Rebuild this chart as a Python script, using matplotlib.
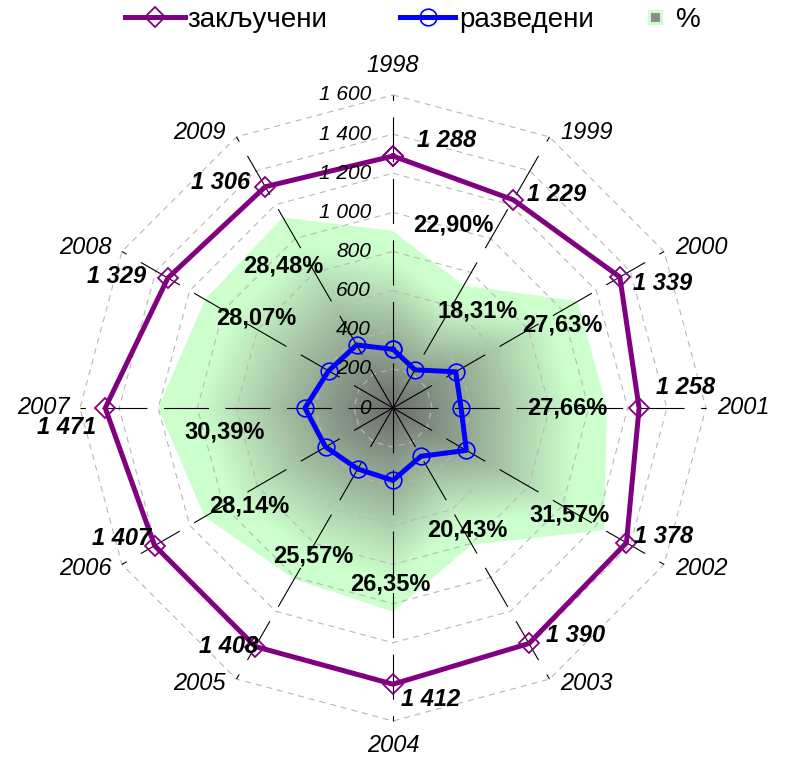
import numpy as np
import matplotlib
matplotlib.use('Agg')
import matplotlib.pyplot as plt
from matplotlib.lines import Line2D
from matplotlib.patches import Polygon

plt.rcParams['font.family'] = ['Liberation Sans', 'DejaVu Sans']
plt.rcParams['lines.scale_dashes'] = False

# подаци
godine = ['1998', '1999', '2000', '2001', '2002', '2003',
          '2004', '2005', '2006', '2007', '2008', '2009']
zakljuceni = [1288, 1229, 1339, 1258, 1378, 1390, 1412, 1408, 1407, 1471, 1329, 1306]
razvedeni = [300, 225, 370, 348, 433, 285, 370, 360, 398, 450, 380, 372]
procenat = [22.90, 18.31, 27.63, 27.66, 31.57, 20.43, 26.35, 25.57, 28.14, 30.39, 28.07, 28.48]
radijalni_podeoci = [0, 200, 400, 600, 800, 1000, 1200, 1400, 1600]

R_MAX = 1600
PCT_MAX = 40.5  # sekundarna osa za %

# pomeraji natpisa u pikselima (dx, dy nagore)
pomeraj_pct = [(60, 6), (14, -26), (-16, -24), (-40, 0), (-35, 15), (-5, 15),
               (-3, 28), (19, 23), (45, 11), (66, -24), (51, -18), (0, -49)]
pomeraj_vr = [(54, 16), (43, 5), (43, -6), (46, 20), (37, 6), (47, 8),
              (38, -15), (-27, 0), (-33, 7), (-39, -20), (-51, 2), (-45, 4)]

W, H = 787, 758
cx, cy = 393, 408
s = 313 / R_MAX  # px po jedinici

fig = plt.figure(figsize=(W / 100, H / 100), dpi=100)
ax = fig.add_axes([0, 0, 1, 1])
ax.axis('off')

n = len(godine)
ugao = np.arange(n) * 2 * np.pi / n
sn, cs = np.sin(ugao), np.cos(ugao)
sn[np.abs(sn) < 1e-9] = 0
cs[np.abs(cs) < 1e-9] = 0

def zatvori(a):
    return np.append(a, a[0])

# povrsina za % sa gradijentom
rp = np.array(procenat) / PCT_MAX * R_MAX
px, py = rp * sn, rp * cs
xmin, xmax, ymin, ymax = px.min(), px.max(), py.min(), py.max()
gx, gy = np.meshgrid(np.linspace(xmin, xmax, 700), np.linspace(ymin, ymax, 700))
th = np.mod(np.arctan2(gx, gy), 2 * np.pi)
k = np.floor(th / (2 * np.pi / n)).astype(int) % n
k1 = (k + 1) % n
det = px[k] * py[k1] - px[k1] * py[k]
a = (gx * py[k1] - px[k1] * gy) / det
b = (px[k] * gy - gx * py[k]) / det
t = np.clip((a + b) / 0.85, 0, 1)
c0 = np.array([0.42, 0.42, 0.42])
c1 = np.array([0.80, 1.0, 0.80])
img = c0 + (c1 - c0) * t[..., None]
im = ax.imshow(img, extent=(xmin, xmax, ymin, ymax), origin='lower',
               interpolation='bilinear', zorder=1)
poly = Polygon(np.column_stack([px, py]), closed=True, fc='none', ec='none',
               transform=ax.transData)
ax.add_patch(poly)
im.set_clip_path(poly)

# mreza
for r in radijalni_podeoci[1:]:
    ax.plot(zatvori(r * sn), zatvori(r * cs), color='#b8b8b8', lw=0.8,
            linestyle=(0, (4.3, 3.6)), zorder=2)
for i in range(n):
    ax.plot([0, R_MAX * sn[i]], [0, R_MAX * cs[i]], color='black', lw=0.8,
            linestyle=(0, (32.4, 11.9)), zorder=2)

for r in radijalni_podeoci:
    ax.annotate(f'{r:,}'.replace(',', ' '), (0, r), xytext=(-22, 0),
                textcoords='offset pixels', ha='right', va='center',
                fontsize=15, style='italic', zorder=4)

for i, g in enumerate(godine):
    if sn[i] == 0:
        off = (0, 29 if cs[i] > 0 else -25)
    else:
        off = (37 * np.sign(sn[i]), 4 * np.sign(cs[i]))
    ax.annotate(g, (R_MAX * sn[i], R_MAX * cs[i]), xytext=off,
                textcoords='offset pixels', ha='center', va='center',
                fontsize=17, style='italic', zorder=4)

# serije
z = np.array(zakljuceni)
rz = np.array(razvedeni)
ax.plot(zatvori(z * sn), zatvori(z * cs), color='#800080', lw=3.6, marker='D',
        ms=10, mfc='none', mec='#800080', mew=1.3, zorder=3)
ax.plot(zatvori(rz * sn), zatvori(rz * cs), color='#0000ff', lw=3.6, marker='o',
        ms=12, mfc='none', mec='#0000ff', mew=1.2, zorder=3)

for i in range(n):
    ax.annotate(f'{zakljuceni[i]:,}'.replace(',', ' '), (z[i] * sn[i], z[i] * cs[i]),
                xytext=pomeraj_vr[i], textcoords='offset pixels', ha='center',
                va='center', fontsize=17, fontweight='bold', style='italic', zorder=4)
    ax.annotate(f'{procenat[i]:.2f}%'.replace('.', ','), (px[i], py[i]),
                xytext=pomeraj_pct[i], textcoords='offset pixels', ha='center',
                va='center', fontsize=17, fontweight='bold', zorder=4)

ax.set_aspect('auto')
ax.set_xlim(-cx / s, (W - cx) / s)
ax.set_ylim(-(H - cy) / s, cy / s)

# legenda
h1 = Line2D([], [], color='#800080', lw=3.6, marker='D', ms=10, mfc='none',
            mec='#800080', mew=1.3)
h2 = Line2D([], [], color='#0000ff', lw=3.6, marker='o', ms=12, mfc='none',
            mec='#0000ff', mew=1.2)
h3 = Line2D([], [], ls='none', marker='s', ms=9, mfc='#8c8c8c', mec='#ccffcc', mew=2.2)
ly = 1 - 20 / H
fs = 20
for h, lbl, x0, hl, tp in [(h1, 'закључени', 125, 2.16, 0.08),
                           (h2, 'разведени', 400, 1.98, 0.15),
                           (h3, '%', 647, 0.55, 0.5)]:
    fig.legend([h], [lbl], loc='center left', bbox_to_anchor=(x0 / W, ly),
               frameon=False, fontsize=fs, handlelength=hl, handletextpad=tp,
               borderpad=0, borderaxespad=0)

fig.savefig('out.png', dpi=100)
